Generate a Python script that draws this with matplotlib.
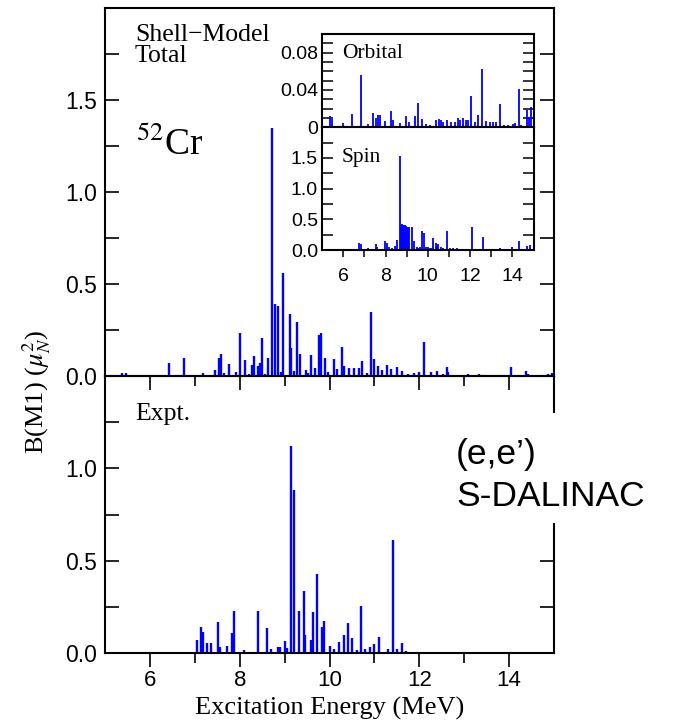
import numpy as np
import matplotlib
matplotlib.use('Agg')
import matplotlib.pyplot as plt
from matplotlib.patches import Rectangle

# shell model total B(M1), energies in MeV
sm_E = [5.36, 5.46, 6.41, 6.75, 7.18, 7.44, 7.54, 7.58, 7.65, 7.76, 7.91, 8.01, 8.12, 8.20, 8.27,
        8.32, 8.40, 8.44, 8.50, 8.57, 8.63, 8.71, 8.78, 8.84, 8.92, 8.96, 9.11, 9.15, 9.20, 9.27,
        9.33, 9.47, 9.51, 9.59, 9.68, 9.76, 9.81, 9.90, 9.96, 10.09, 10.17, 10.27, 10.32, 10.43,
        10.54, 10.66, 10.73, 10.84, 10.93, 10.98, 11.09, 11.16, 11.28, 11.38, 11.51, 11.61, 11.74,
        11.89, 12.00, 12.11, 12.27, 12.40, 12.52, 12.61, 12.65, 12.77, 13.08, 13.21, 13.33, 13.51,
        13.65, 13.80, 13.93, 14.05, 14.14, 14.38, 14.42, 14.73, 14.88, 14.95]
sm_B = [0.016, 0.015, 0.072, 0.098, 0.018, 0.034, 0.098, 0.121, 0.015, 0.065, 0.024, 0.234, 0.087, 0.012, 0.06,
        0.11, 0.056, 0.07, 0.205, 0.01, 0.096, 1.35, 0.393, 0.379, 0.02, 0.56, 0.335, 0.15, 0.027, 0.295,
        0.118, 0.033, 0.015, 0.114, 0.045, 0.223, 0.234, 0.096, 0.024, 0.09, 0.038, 0.16, 0.053, 0.045,
        0.045, 0.045, 0.082, 0.015, 0.35, 0.09, 0.054, 0.031, 0.062, 0.036, 0.049, 0.029, 0.011,
        0.016, 0.024, 0.187, 0.024, 0.027, 0.01, 0.05, 0.02, 0.008, 0.012, 0.008, 0.012, 0.008,
        0.008, 0.008, 0.008, 0.049, 0.008, 0.027, 0.01, 0.008, 0.012, 0.018]

# experiment (e,e')
ex_E = [7.04, 7.13, 7.17, 7.26, 7.35, 7.52, 7.56, 7.71, 7.82, 7.86, 8.08, 8.40, 8.60, 8.69, 8.86,
        8.90, 9.01, 9.05, 9.14, 9.21, 9.32, 9.42, 9.46, 9.58, 9.62, 9.73, 9.83, 9.88, 10.00, 10.10,
        10.20, 10.31, 10.40, 10.51, 10.60, 10.71, 10.80, 10.90, 11.00, 11.11, 11.31, 11.41, 11.51,
        11.61, 11.71]
ex_B = [0.072, 0.14, 0.116, 0.056, 0.052, 0.17, 0.03, 0.037, 0.107, 0.23, 0.018, 0.225, 0.138, 0.022, 0.035,
        0.035, 0.065, 0.028, 1.12, 0.88, 0.23, 0.335, 0.098, 0.07, 0.223, 0.427, 0.14, 0.175, 0.038, 0.02,
        0.06, 0.095, 0.161, 0.083, 0.015, 0.256, 0.023, 0.03, 0.048, 0.089, 0.02, 0.612, 0.02,
        0.052, 0.012]

# inset: orbital part
orb_E = [5.37, 5.48, 6.00, 6.43, 6.82, 7.18, 7.42, 7.55, 7.66, 7.75, 7.99, 8.24, 8.33, 8.68, 8.95,
         9.09, 9.39, 9.52, 9.74, 9.91, 10.10, 10.40, 10.51, 10.60, 10.72, 10.92, 11.11, 11.27, 11.43,
         11.54, 11.66, 11.82, 11.90, 12.03, 12.21, 12.37, 12.56, 12.77, 12.92, 13.08, 13.24, 13.40,
         13.60, 13.79, 14.03, 14.14, 14.31, 14.39, 14.69, 14.77, 14.86]
orb_B = [0.012, 0.009, 0.005, 0.014, 0.056, 0.004, 0.015, 0.010, 0.013, 0.013, 0.007, 0.017, 0.008, 0.005, 0.012,
         0.006, 0.012, 0.026, 0.009, 0.004, 0.003, 0.008, 0.009, 0.008, 0.006, 0.008, 0.006, 0.006, 0.010,
         0.008, 0.010, 0.008, 0.008, 0.034, 0.006, 0.013, 0.062, 0.007, 0.006, 0.006, 0.006, 0.025,
         0.003, 0.003, 0.004, 0.005, 0.041, 0.002, 0.019, 0.011, 0.022]

# inset: spin part
sp_E = [6.74, 6.82, 7.18, 7.53, 7.61, 7.99, 8.07, 8.16, 8.32, 8.43, 8.52, 8.68, 8.72, 8.76, 8.80,
        8.84, 8.88, 8.93, 8.98, 9.03, 9.08, 9.12, 9.25, 9.34, 9.47, 9.55, 9.63, 9.74, 9.82, 9.90,
        10.02, 10.10, 10.20, 10.26, 10.37, 10.45, 10.50, 10.61, 10.70, 10.89, 11.05, 11.20, 11.36,
        11.52, 12.07, 12.59, 13.41, 13.96, 14.33, 14.68, 14.83]
sp_B = [0.12, 0.09, 0.03, 0.10, 0.05, 0.15, 0.11, 0.05, 0.04, 0.07, 0.17, 1.53, 0.41, 0.42, 0.41,
        0.41, 0.40, 0.40, 0.39, 0.38, 0.38, 0.37, 0.37, 0.14, 0.05, 0.04, 0.05, 0.31, 0.27, 0.05,
        0.05, 0.04, 0.03, 0.19, 0.11, 0.07, 0.09, 0.05, 0.03, 0.31, 0.04, 0.04, 0.04,
        0.02, 0.38, 0.22, 0.03, 0.05, 0.14, 0.07, 0.08]

W, H = 675., 721.
serif = 'Liberation Serif'
sans = 'Liberation Sans'
plt.rcParams['font.family'] = sans
plt.rcParams['mathtext.fontset'] = 'stix'
blue = '#0000ff'

def fx(px):
    return px / W

def fy(py):
    return 1 - py / H

fig = plt.figure(figsize=(W / 100, H / 100), dpi=100)

# main panels
ax1 = fig.add_axes([fx(105.4), fy(376), fx(553.8) - fx(105.4), fy(8) - fy(376)])
ax2 = fig.add_axes([fx(105.4), fy(653), fx(553.8) - fx(105.4), fy(376) - fy(653)])
ax2.set_facecolor('none')

ax1.vlines(sm_E, 0, sm_B, colors=blue, lw=1.7)
ax2.vlines(ex_E, 0, ex_B, colors=blue, lw=1.7)

for ax, top in [(ax1, 2.0), (ax2, 1.5)]:
    ax.set_xlim(5, 15)
    ax.set_ylim(0, top)
    for s in ax.spines.values():
        s.set_linewidth(1.5)
    ax.set_xticks([6, 8, 10, 12, 14])
    ax.set_xticks([7, 9, 11, 13], minor=True)
    ax.tick_params(axis='y', which='both', direction='in', length=10, width=1.2,
                   left=True, right=True, labelsize=16.5, pad=6)
    ax.tick_params(axis='x', which='major', direction='out', length=10, width=1.2, top=False)
    ax.tick_params(axis='x', which='minor', direction='out', length=7, width=1.2, top=False)

ax1.set_yticks([0, 0.5, 1.0, 1.5], ['0.0', '0.5', '1.0', '1.5'])
ax1.set_yticks([0.25, 0.75, 1.25, 1.75], minor=True)
ax1.tick_params(axis='x', labelbottom=False)

ax2.set_yticks([0, 0.5, 1.0], ['0.0', '0.5', '1.0'])
ax2.set_yticks([0.25, 0.75, 1.25], minor=True)
ax2.tick_params(axis='x', labelsize=16, pad=2.5)

# inset
axo = fig.add_axes([fx(322.2), fy(127.3), fx(533.5) - fx(322.2), fy(34) - fy(127.3)])
axs = fig.add_axes([fx(322.2), fy(250), fx(533.5) - fx(322.2), fy(127.3) - fy(250)])
axo.vlines(orb_E, 0, orb_B, colors=blue, lw=1.3)
axs.vlines(sp_E, 0, sp_B, colors=blue, lw=1.3)

for ax in [axo, axs]:
    ax.set_xlim(5, 15)
    for s in ax.spines.values():
        s.set_linewidth(1.5)
    ax.set_xticks([6, 8, 10, 12, 14])
    ax.set_xticks([7, 9, 11, 13], minor=True)
    ax.tick_params(axis='y', which='both', direction='in', length=8, width=1.1,
                   left=True, right=True, labelsize=14, pad=3)
    ax.tick_params(axis='x', which='both', direction='out', length=5, width=1.1, top=False)

axo.set_ylim(0, 0.1)
axo.set_yticks([0, 0.04, 0.08], ['0', '0.04', '0.08'])
axo.set_yticks([0.01, 0.02, 0.03, 0.05, 0.06, 0.07, 0.09], minor=True)
axo.tick_params(axis='x', labelbottom=False)

axs.set_ylim(0, 2.0)
axs.set_yticks([0, 0.5, 1.0, 1.5], ['0.0', '0.5', '1.0', '1.5'])
axs.set_yticks([0.25, 0.75, 1.25, 1.75], minor=True)
axs.tick_params(axis='x', labelsize=14, pad=8)

# labels
fig.text(fx(135), fy(24), 'Shell\u2212Model\nTotal', family=serif, fontsize=18.5,
         ha='left', va='top', linespacing=0.95)
fig.text(fx(136), fy(155), r'$^{52}$Cr', family=serif, fontsize=27, ha='left', va='baseline')
fig.text(fx(135), fy(420), 'Expt.', family=serif, fontsize=18.5, ha='left', va='baseline')
fig.text(fx(341.7), fy(58.3), 'Orbital', family=serif, fontsize=15.5, ha='left', va='baseline')
fig.text(fx(341.7), fy(162), 'Spin', family=serif, fontsize=15.5, ha='left', va='baseline')

fig.patches.append(Rectangle((fx(442), fy(523)), fx(675) - fx(442), fy(413) - fy(523),
                             transform=fig.transFigure, facecolor='white', edgecolor='none', zorder=2))
fig.text(fx(456), fy(464), '(e,e\u2019)', family=sans, fontsize=25.5, ha='left', va='baseline', zorder=3)
fig.text(fx(456), fy(506), 'S-DALINAC', family=sans, fontsize=25.5, ha='left', va='baseline', zorder=3)

fig.text(fx(37), fy(392), r'B(M1) ($\mu_N^2$)', family=serif, fontsize=19,
         rotation=90, ha='center', va='center')
fig.text(fx(330), fy(715), 'Excitation Energy (MeV)', family=serif, fontsize=19,
         ha='center', va='baseline')

fig.savefig('out.png', dpi=100)
